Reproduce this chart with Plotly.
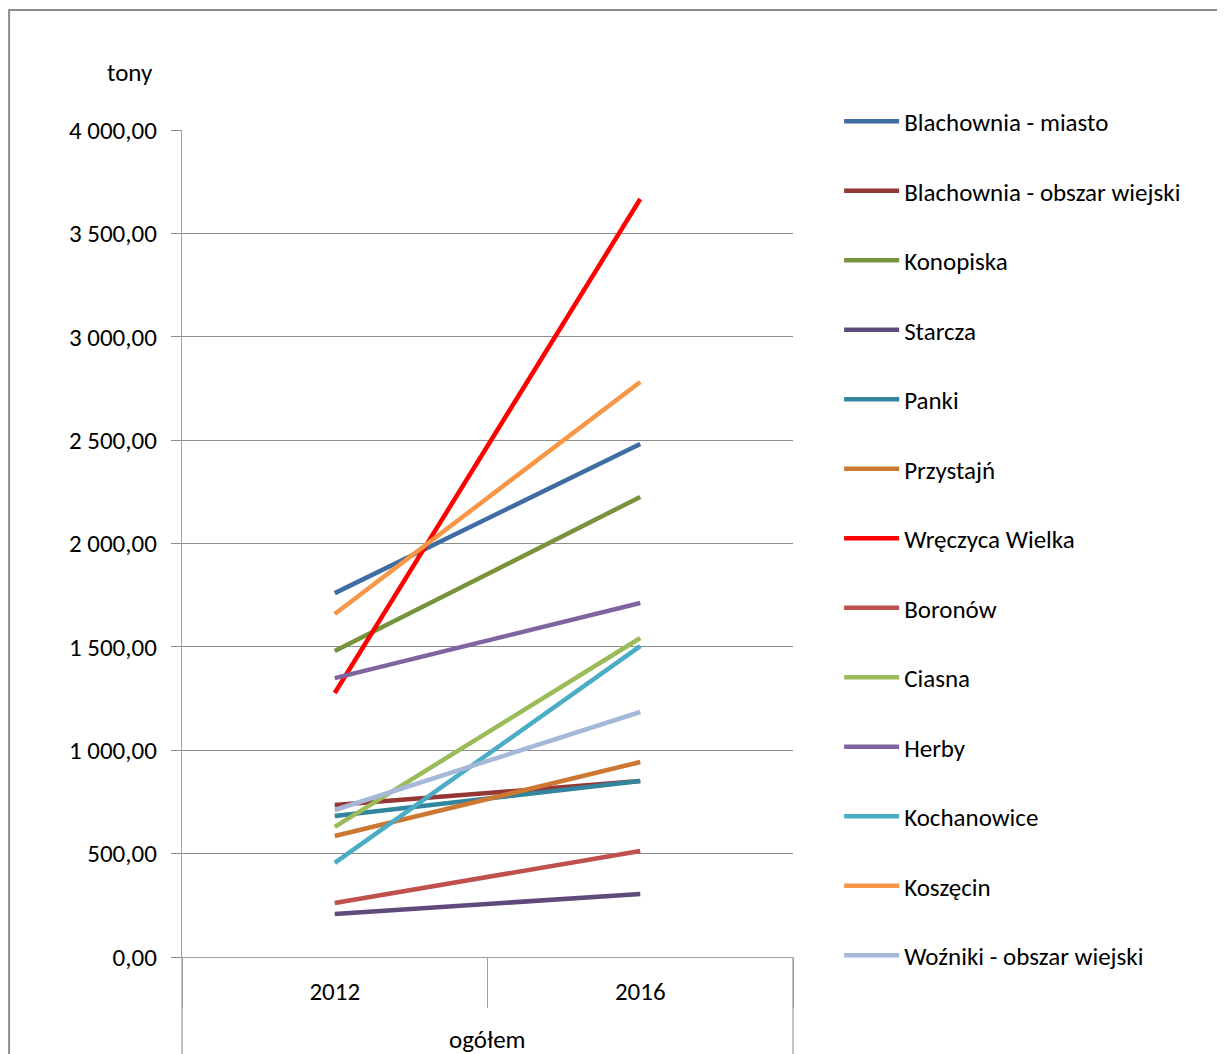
import plotly.graph_objects as go

# years and group label of the category axis
years = ['2012', '2016']
group = 'ogółem'

gminy = [
    'Blachownia - miasto', 'Blachownia - obszar wiejski', 'Konopiska', 'Starcza',
    'Panki', 'Przystajń', 'Wręczyca Wielka', 'Boronów', 'Ciasna', 'Herby',
    'Kochanowice', 'Koszęcin', 'Woźniki - obszar wiejski',
]

# tonnes in 2012 and 2016
values_2012 = [1760, 735, 1480, 208, 682, 585, 1277, 261, 629, 1349, 455, 1659, 711]
values_2016 = [2481, 851, 2225, 305, 851, 943, 3666, 513, 1543, 1712, 1504, 2781, 1185]

colors = [
    '#3F6CA3', '#953735', '#77933C', '#604A7B', '#31859C', '#CC7833', '#FF0000',
    '#C0504D', '#9BBB59', '#8064A2', '#4BACC6', '#F79646', '#A5B8D8',
]

font_family = 'Calibri, Carlito, Lato, sans-serif'

fig = go.Figure()
for i, name in enumerate(gminy):
    fig.add_trace(go.Scatter(
        x=years,
        y=[values_2012[i], values_2016[i]],
        mode='lines',
        name=name,
        legendgroup=name,
        line=dict(color=colors[i], width=4.5),
    ))

# page body adds 8px offset, so figure is 8px smaller
fig.update_layout(
    width=1217,
    height=1046,
    paper_bgcolor='white',
    plot_bgcolor='white',
    separators=', ',
    font=dict(family=font_family, size=25, color='black'),
    margin=dict(l=174, r=432, t=122, b=97, autoexpand=False),
    showlegend=True,
    legend=dict(
        x=1.0755, y=1.038, xanchor='left', yanchor='top',
        tracegroupgap=34, itemwidth=55, maxheight=1000,
        font=dict(family=font_family, size=25),
        bgcolor='rgba(0,0,0,0)',
    ),
    annotations=[
        dict(text='tony', x=-0.085, y=1.07, xref='paper', yref='paper',
             xanchor='center', yanchor='middle',
             showarrow=False, font=dict(size=25)),
        # group label under the years
        dict(text=group, x=0.5, y=-0.1, xref='paper', yref='paper',
             xanchor='center', yanchor='middle',
             showarrow=False, font=dict(size=25)),
    ],
)

fig.update_yaxes(
    range=[0, 4000], dtick=500, tickformat=',.2f',
    showgrid=True, gridcolor='#8C8C8C', gridwidth=1.3,
    ticks='outside', ticklen=10, tickcolor='#8C8C8C', ticklabelstandoff=9,
    showline=True, linecolor='#A0A0A0', linewidth=1.3,
    zeroline=False, fixedrange=True,
)
fig.update_xaxes(
    type='category', range=[-0.5, 1.5],
    showline=True, linecolor='#A0A0A0', linewidth=1.3,
    ticks='outside', tickson='boundaries', ticklen=50, tickcolor='#A0A0A0',
    ticklabelstandoff=12,
    showgrid=False,
)

# group dividers running down to the bottom edge
for xd in (0, 1):
    fig.add_shape(type='line', xref='paper', yref='paper',
                  x0=xd, x1=xd, y0=0, y1=-0.2,
                  line=dict(color='#A0A0A0', width=1.3))

# outer chart border
fig.add_shape(type='rect', xref='paper', yref='paper',
              x0=-0.283, x1=1.8, y0=-0.3, y1=1.145,
              line=dict(color='#8C8C8C', width=2))

fig.write_html('out.html')
